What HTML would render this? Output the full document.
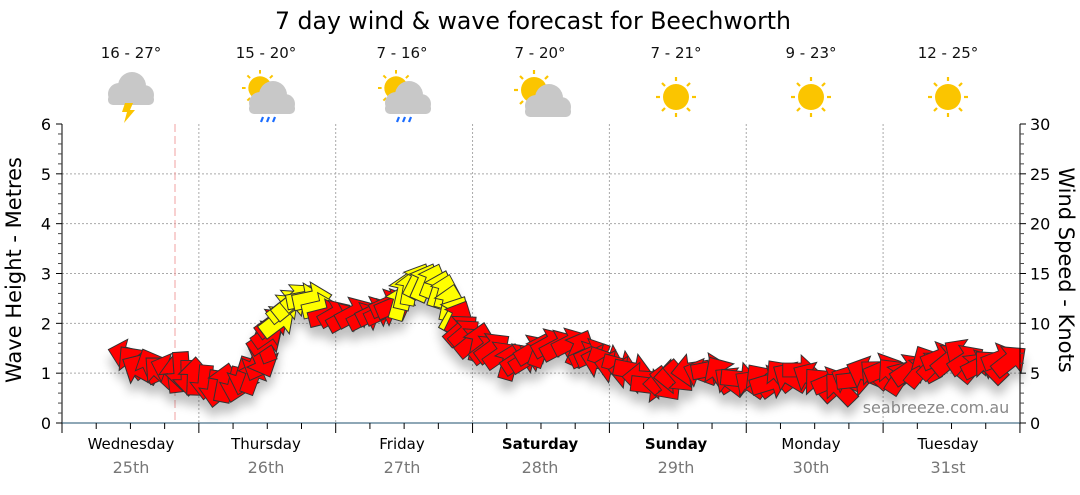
<!DOCTYPE html>
<html><head><meta charset="utf-8"><style>
body{margin:0;background:#fff;width:1080px;height:490px;overflow:hidden;font-family:"Liberation Sans","DejaVu Sans",sans-serif}
</style></head><body>
<svg id="s" width="1080" height="490" xmlns="http://www.w3.org/2000/svg" font-family="Liberation Sans, DejaVu Sans, sans-serif">
<defs>
<filter id="sh" x="-50%" y="-50%" width="200%" height="200%"><feGaussianBlur in="SourceAlpha" stdDeviation="5"/><feOffset dx="0" dy="10"/><feComponentTransfer><feFuncA type="linear" slope="0.25"/></feComponentTransfer><feMerge><feMergeNode/><feMergeNode in="SourceGraphic"/></feMerge></filter>
<g id="cloud"><circle cx="-8" cy="4" r="11" fill="#c8c8c8"/><circle cx="5" cy="-4" r="14" fill="#c8c8c8"/><circle cx="17" cy="5" r="10" fill="#c8c8c8"/><rect x="-19" y="4" width="46" height="11" rx="5" fill="#c8c8c8"/></g>
<g id="sun"><circle r="13" fill="#fbc500"/><g stroke="#fbc500" stroke-width="2.2"><line x1="0" y1="-16" x2="0" y2="-20"/><line x1="0" y1="16" x2="0" y2="20"/><line x1="16" y1="0" x2="20" y2="0"/><line x1="-16" y1="0" x2="-20" y2="0"/><line x1="11" y1="11" x2="14" y2="14"/><line x1="-11" y1="11" x2="-14" y2="14"/><line x1="11" y1="-11" x2="14" y2="-14"/><line x1="-11" y1="-11" x2="-14" y2="-14"/></g></g>
</defs>
<text x="533" y="29" text-anchor="middle" font-size="23.6" font-family="DejaVu Sans, sans-serif">7 day wind &amp; wave forecast for Beechworth</text>
<g font-size="15" text-anchor="middle" fill="#111" font-family="DejaVu Sans, sans-serif">
<text x="131" y="58">16 - 27°</text><text x="266" y="58">15 - 20°</text><text x="402" y="58">7 - 16°</text><text x="540" y="58">7 - 20°</text><text x="676" y="58">7 - 21°</text><text x="811" y="58">9 - 23°</text><text x="948" y="58">12 - 25°</text>
</g>
<g transform="translate(127,90)"><use href="#cloud"/><polygon points="-2,13 6,13 3,20 8,20 -3,33 0,22 -5,22" fill="#fbc500"/></g>
<g transform="translate(258,90)"><use href="#sun" transform="translate(2,-2) scale(0.9)"/><use href="#cloud" transform="translate(10,9)"/><g stroke="#1a6cff" stroke-width="2.2"><line x1="5" y1="27" x2="3" y2="32"/><line x1="11" y1="27" x2="9" y2="32"/><line x1="17" y1="27" x2="15" y2="32"/></g></g>
<g transform="translate(394,90)"><use href="#sun" transform="translate(2,-2) scale(0.9)"/><use href="#cloud" transform="translate(10,9)"/><g stroke="#1a6cff" stroke-width="2.2"><line x1="5" y1="27" x2="3" y2="32"/><line x1="11" y1="27" x2="9" y2="32"/><line x1="17" y1="27" x2="15" y2="32"/></g></g>
<g transform="translate(532,92)"><use href="#sun" transform="translate(2,-2)"/><use href="#cloud" transform="translate(12,10)"/></g>
<g transform="translate(676,97)"><use href="#sun"/></g>
<g transform="translate(811,97)"><use href="#sun"/></g>
<g transform="translate(948,97)"><use href="#sun"/></g>
<g id="grid"></g>
<line x1="175" y1="124" x2="175" y2="423" stroke="#f0a0a0" stroke-dasharray="8,4" stroke-width="1"/>
<g id="arrows" filter="url(#sh)"></g>
<text x="936" y="413" text-anchor="middle" font-size="16" fill="#888" font-family="DejaVu Sans, sans-serif">seabreeze.com.au</text>
<g id="axes"></g>
<text transform="translate(21,270) rotate(-90)" text-anchor="middle" font-size="21" font-family="DejaVu Sans, sans-serif">Wave Height - Metres</text>
<text transform="translate(1059,270) rotate(90)" text-anchor="middle" font-size="21" font-family="DejaVu Sans, sans-serif">Wind Speed - Knots</text>
<g font-size="15" text-anchor="middle" font-family="DejaVu Sans, sans-serif">
<text x="131" y="449">Wednesday</text><text x="266" y="449">Thursday</text><text x="402" y="449">Friday</text><text x="540" y="449" font-weight="bold">Saturday</text><text x="676" y="449" font-weight="bold">Sunday</text><text x="811" y="449">Monday</text><text x="948" y="449">Tuesday</text>
</g>
<g font-size="16" text-anchor="middle" fill="#777" font-family="DejaVu Sans, sans-serif">
<text x="131" y="473">25th</text><text x="266" y="473">26th</text><text x="402" y="473">27th</text><text x="540" y="473">28th</text><text x="676" y="473">29th</text><text x="811" y="473">30th</text><text x="948" y="473">31st</text>
</g>
</svg>
<script>
const NS="http://www.w3.org/2000/svg";
function el(p,t,a){const e=document.createElementNS(NS,t);for(const k in a)e.setAttribute(k,a[k]);p.appendChild(e);return e;}
const g=document.getElementById('grid'),ax=document.getElementById('axes');
const L=62,R=1020,T=124,B=423,DW=136.85;
for(let i=1;i<=5;i++){const y=B-i*(B-T)/6;el(g,'line',{x1:L,x2:R,y1:y,y2:y,stroke:'#aaa','stroke-dasharray':'2,2'});}
for(let d=1;d<7;d++){const x=L+d*DW;el(g,'line',{x1:x,x2:x,y1:T,y2:B,stroke:'#aaa','stroke-dasharray':'2,2'});}
el(ax,'line',{x1:L,x2:L,y1:T,y2:B,stroke:'#000'});
el(ax,'line',{x1:R,x2:R,y1:T,y2:B,stroke:'#000'});
el(ax,'line',{x1:L,x2:R,y1:B,y2:B,stroke:'#1d4f6e'});
for(let i=0;i<=30;i++){const y=B-i*(B-T)/30;const maj=i%5==0;el(ax,'line',{x1:L-(maj?6:4),x2:L,y1:y,y2:y,stroke:maj?'#000':'#444'});el(ax,'line',{x1:R,x2:R+(maj?6:4),y1:y,y2:y,stroke:maj?'#000':'#444'});}
for(let i=0;i<=6;i++){const y=B-i*(B-T)/6;el(ax,'text',{x:51,y:y+6,'text-anchor':'end','font-size':'16','font-family':'DejaVu Sans, sans-serif'}).textContent=i;el(ax,'text',{x:1030,y:y+6,'font-size':'16','font-family':'DejaVu Sans, sans-serif'}).textContent=i*5;}
for(let i=0;i<=28;i++){const x=L+i*DW/4;const maj=i%4==0;el(ax,'line',{x1:x,x2:x,y1:B,y2:B+(maj?10:6),stroke:'#000'});}
const P=[[125,358],[140,365],[160,368],[175,372],[195,380],[215,385],[235,382],[252,375],[262,358],[268,330],[278,318],[290,302],[305,298],[320,308],[335,315],[355,315],[375,315],[395,305],[410,285],[425,280],[440,288],[455,310],[465,335],[480,345],[500,355],[520,360],[540,348],[560,345],[580,348],[600,358],[620,368],[640,378],[660,385],[680,375],[700,372],[720,374],[740,380],[760,382],[780,378],[800,374],[820,380],[840,385],[855,378],[875,373],[900,373],[920,368],[940,360],[960,357],[980,366],[1000,360],[1020,357]];
const pts=[];
for(let i=0;i<P.length-1;i++){const[a,b]=P[i],[c,d]=P[i+1];const len=Math.hypot(c-a,d-b);const n=Math.max(1,Math.round(len/8.5));for(let k=0;k<n;k++){pts.push([a+(c-a)*k/n,b+(d-b)*k/n]);}}
const A=document.getElementById('arrows');
pts.forEach((p,i)=>{const x=p[0];let ang;
 if(x<170)ang=-135+((i*37)%60)-30;
 else if(x<265)ang=90+((i*53)%50)-25+(i%3==0?180:0);
 else if(x<330)ang=(i*29)%30-15+(x<300?-30:0);
 else if(x<400)ang=-30+((i*31)%30);
 else if(x<460)ang=-80+((i*17)%20);
 else if(x<600)ang=-50+((i*41)%40)-(i%4==0?40:0);
 else if(x<700)ang=(i%2?180:30)+((i*23)%50)-25;
 else if(x<880)ang=(i%3?-160:-30)+((i*19)%40);
 else ang=(i%4==0?-150:-60)+((i*23)%40);
 const yel=(x>275&&x<322)||(x>398&&x<458);
 const s=1.15+((i*7)%5)/25;
 const jy=((i*13)%9)-4;
 el(A,'polygon',{points:'-15,-6 1,-6 1,-13 15,0 1,13 1,6 -15,6',transform:`translate(${p[0].toFixed(1)},${(p[1]+jy).toFixed(1)}) rotate(${ang}) scale(${s})`,fill:yel?'#ffff00':'#ff0000',stroke:'#333','stroke-width':'0.8'});
});
</script>
</body></html>
